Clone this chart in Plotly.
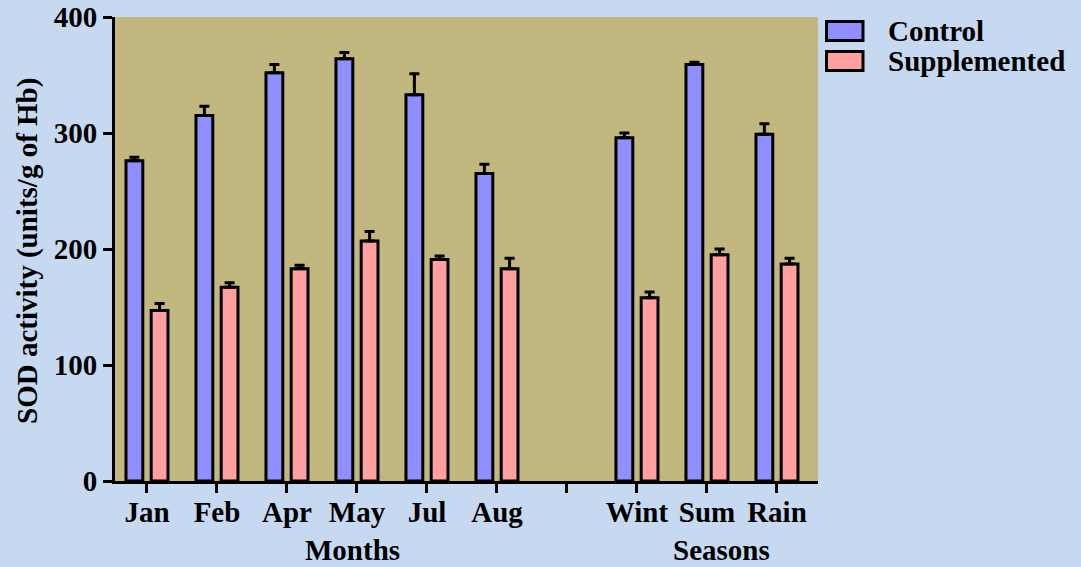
import plotly.graph_objects as go

# --- data -------------------------------------------------------------
months = ["Jan", "Feb", "Apr", "May", "Jul", "Aug"]
seasons = ["Wint", "Sum", "Rain"]

control_mean = [276, 315, 352, 364, 333, 265, 296, 359, 299]
control_err = [3, 8, 7, 5.5, 18, 8, 4, 2, 9]
supp_mean = [147, 167, 183, 207, 191, 183, 158, 195, 187]
supp_err = [6, 4, 3, 8, 3, 9, 5, 5, 5]

y_ticks = [0, 100, 200, 300, 400]

# --- styling ----------------------------------------------------------
PAGE_BG = "#C6D9F0"
PLOT_BG = "#C2B77E"
CONTROL_COLOR = "#8F8FFF"
SUPP_COLOR = "#FF9F9F"
FONT = "Liberation Serif"

W, H = 1081, 567
M_L, M_R, M_T, M_B = 115, 263, 17, 86

# months occupy slots 0..5, slot 6 is an empty spacer, seasons 7..9
labels = months + [""] + seasons
x_pos = list(range(len(months))) + [len(months) + 1 + i for i in range(len(seasons))]

fig = go.Figure()

for name, mean, err, color in [
    ("Control", control_mean, control_err, CONTROL_COLOR),
    ("Supplemented", supp_mean, supp_err, SUPP_COLOR),
]:
    fig.add_trace(go.Bar(
        x=x_pos, y=mean, name=name,
        marker=dict(color=color, line=dict(color="black", width=3)),
        error_y=dict(type="data", symmetric=False, array=err,
                     arrayminus=[0] * len(err),
                     color="black", thickness=3, width=5),
    ))

tick_font = dict(family=FONT, size=29, color="black", weight="bold")

fig.update_layout(
    width=W, height=H,
    margin=dict(l=M_L, r=M_R, t=M_T, b=M_B, pad=0, autoexpand=False),
    paper_bgcolor=PAGE_BG, plot_bgcolor=PLOT_BG,
    barmode="group", bargap=0.28, bargroupgap=0.333,
    showlegend=False,
    font=dict(family=FONT, color="black"),
)

fig.update_xaxes(
    range=[-0.457, 9.586], automargin=False,
    tickmode="array", tickvals=list(range(len(labels))), ticktext=labels,
    ticks="outside", ticklen=9, tickwidth=3, tickcolor="black",
    ticklabelstandoff=-6,
    showline=True, linecolor="black", linewidth=3,
    showgrid=False, zeroline=False, tickfont=tick_font,
)
fig.update_yaxes(
    range=[0, 400], automargin=False,
    tickmode="array", tickvals=y_ticks,
    ticks="outside", ticklen=9, tickwidth=3, tickcolor="black",
    showline=True, linecolor="black", linewidth=3,
    showgrid=False, zeroline=False, tickfont=tick_font,
)

plot_w = W - M_L - M_R
plot_h = H - M_T - M_B


def px_x(px):
    return (px - M_L) / plot_w


def px_y(py):
    return (H - M_B - py) / plot_h


label_font = dict(family=FONT, size=29, color="black", weight="bold")

# y-axis title, rotated, left of the tick labels
fig.add_annotation(text="SOD activity (units/g of Hb)", xref="paper", yref="paper",
                   x=px_x(27), y=px_y(251), xanchor="center", yanchor="middle",
                   textangle=-90, showarrow=False, font=label_font)

# group captions under the category labels
fig.add_annotation(text="Months", x=2.94, xref="x", y=px_y(550), yref="paper",
                   xanchor="center", yanchor="middle", showarrow=False, font=label_font)
fig.add_annotation(text="Seasons", x=8.21, xref="x", y=px_y(550), yref="paper",
                   xanchor="center", yanchor="middle", showarrow=False, font=label_font)

# legend drawn as swatches + labels to the right of the plot
for (name, color), (top, bottom) in zip(
    [("Control", CONTROL_COLOR), ("Supplemented", SUPP_COLOR)],
    [(21.5, 40.5), (51.5, 70.5)],
):
    fig.add_shape(type="rect", xref="paper", yref="paper",
                  x0=px_x(826.5), x1=px_x(863), y0=px_y(bottom), y1=px_y(top),
                  fillcolor=color, line=dict(color="black", width=3))
    fig.add_annotation(text=name, xref="paper", yref="paper",
                       x=px_x(886), y=px_y((top + bottom) / 2),
                       xanchor="left", yanchor="middle", showarrow=False,
                       font=label_font)

fig.write_html("out.html")
